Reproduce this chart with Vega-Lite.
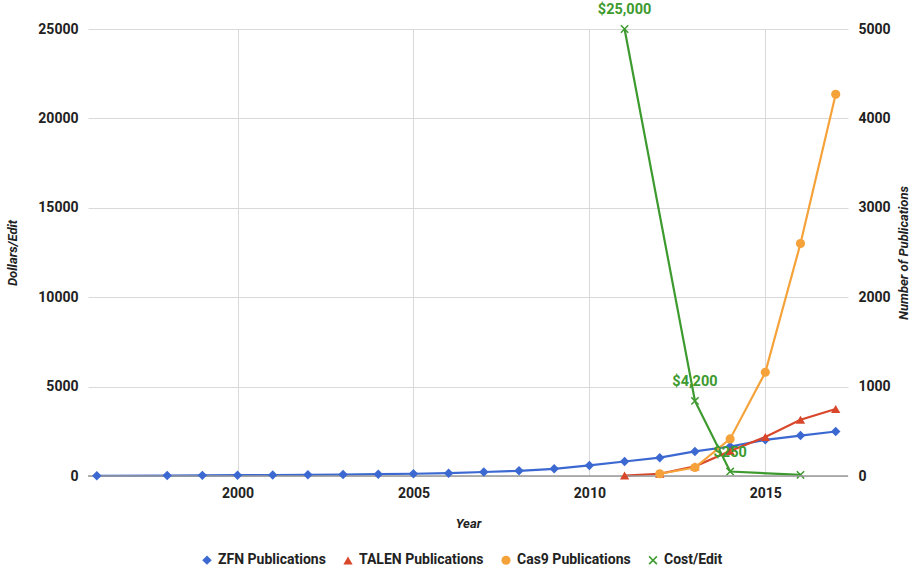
{
  "$schema": "https://vega.github.io/schema/vega-lite/v6.json",
  "width": 760,
  "height": 447,
  "autosize": {"type": "none"},
  "padding": {"left": 88, "top": 29, "right": 75, "bottom": 93},
  "background": "white",
  "config": {
    "view": {"stroke": null},
    "font": "Roboto",
    "axis": {"labelFont": "Roboto", "labelFontWeight": "bold", "labelFontSize": 14, "labelColor": "#222222", "titleFont": "Roboto", "titleFontWeight": "bold", "titleFontStyle": "italic", "titleFontSize": 13, "titleColor": "#222222", "ticks": false, "domain": false, "gridColor": "#d9d9d9"}
  },
  "data": {
    "values": [
      {"year": 1996, "series": "ZFN Publications", "value": 3},
      {"year": 1998, "series": "ZFN Publications", "value": 5},
      {"year": 1999, "series": "ZFN Publications", "value": 7},
      {"year": 2000, "series": "ZFN Publications", "value": 9},
      {"year": 2001, "series": "ZFN Publications", "value": 11},
      {"year": 2002, "series": "ZFN Publications", "value": 13},
      {"year": 2003, "series": "ZFN Publications", "value": 16},
      {"year": 2004, "series": "ZFN Publications", "value": 20},
      {"year": 2005, "series": "ZFN Publications", "value": 25},
      {"year": 2006, "series": "ZFN Publications", "value": 32},
      {"year": 2007, "series": "ZFN Publications", "value": 45},
      {"year": 2008, "series": "ZFN Publications", "value": 58},
      {"year": 2009, "series": "ZFN Publications", "value": 80},
      {"year": 2010, "series": "ZFN Publications", "value": 118},
      {"year": 2011, "series": "ZFN Publications", "value": 162},
      {"year": 2012, "series": "ZFN Publications", "value": 205},
      {"year": 2013, "series": "ZFN Publications", "value": 275},
      {"year": 2014, "series": "ZFN Publications", "value": 330},
      {"year": 2015, "series": "ZFN Publications", "value": 405},
      {"year": 2016, "series": "ZFN Publications", "value": 452},
      {"year": 2017, "series": "ZFN Publications", "value": 498},
      {"year": 2011, "series": "TALEN Publications", "value": 5},
      {"year": 2012, "series": "TALEN Publications", "value": 25},
      {"year": 2013, "series": "TALEN Publications", "value": 108},
      {"year": 2014, "series": "TALEN Publications", "value": 280},
      {"year": 2015, "series": "TALEN Publications", "value": 437},
      {"year": 2016, "series": "TALEN Publications", "value": 630},
      {"year": 2017, "series": "TALEN Publications", "value": 750},
      {"year": 2012, "series": "Cas9 Publications", "value": 25},
      {"year": 2013, "series": "Cas9 Publications", "value": 95},
      {"year": 2014, "series": "Cas9 Publications", "value": 415},
      {"year": 2015, "series": "Cas9 Publications", "value": 1160},
      {"year": 2016, "series": "Cas9 Publications", "value": 2600},
      {"year": 2017, "series": "Cas9 Publications", "value": 4270},
      {"year": 2011, "series": "Cost/Edit", "value": 25000, "label": "$25,000"},
      {"year": 2013, "series": "Cost/Edit", "value": 4200, "label": "$4,200"},
      {"year": 2014, "series": "Cost/Edit", "value": 250, "label": "$250"},
      {"year": 2016, "series": "Cost/Edit", "value": 65}
    ]
  },
  "encoding": {
    "x": {
      "field": "year", "type": "quantitative",
      "scale": {"domain": [1995.75, 2017.35], "nice": false, "zero": false},
      "axis": {"values": [2000, 2005, 2010, 2015], "format": "d", "title": "Year", "labelPadding": 10, "titlePadding": 17, "grid": true}
    }
  },
  "layer": [
    {
      "transform": [{"filter": "datum.series === 'Cost/Edit'"}],
      "layer": [
        {
          "mark": {"type": "line", "strokeWidth": 2.2, "color": "#3d9a2e"},
          "encoding": {
            "y": {"field": "value", "type": "quantitative", "scale": {"domain": [0, 25000], "nice": false},
              "axis": {"orient": "left", "title": "Dollars/Edit", "values": [0, 5000, 10000, 15000, 20000, 25000], "format": "d", "grid": true, "labelPadding": 10, "titlePadding": 18}}
          }
        },
        {
          "mark": {"type": "point", "filled": true, "opacity": 1, "size": 70, "color": "#3d9a2e", "shape": "M-0.75,-1L0,-0.25L0.75,-1L1,-0.75L0.25,0L1,0.75L0.75,1L0,0.25L-0.75,1L-1,0.75L-0.25,0L-1,-0.75Z"},
          "encoding": {
            "y": {"field": "value", "type": "quantitative"}
          }
        }
      ]
    },
    {
      "layer": [
        {
          "transform": [{"filter": "datum.series !== 'Cost/Edit'"}],
          "mark": {"type": "line", "strokeWidth": 2.2},
          "encoding": {
            "y": {"field": "value", "type": "quantitative", "scale": {"domain": [0, 5000], "nice": false},
              "axis": {"orient": "right", "title": "Number of Publications", "titleAngle": 270, "values": [0, 1000, 2000, 3000, 4000, 5000], "format": "d", "grid": false, "labelPadding": 10, "titlePadding": 20}},
            "stroke": {"field": "series", "type": "nominal", "legend": null,
              "scale": {"domain": ["ZFN Publications", "TALEN Publications", "Cas9 Publications"], "range": ["#3c68d1", "#d9472b", "#f5a23a"]}}
          }
        },
        {
          "data": {"values": [{"zero": 0}]},
          "mark": {"type": "rule", "color": "#999999", "strokeWidth": 1.5},
          "encoding": {"y": {"field": "zero", "type": "quantitative"}, "x": {"value": 0}, "x2": {"value": 760}}
        },
        {
          "mark": {"type": "point", "filled": true, "opacity": 1},
          "encoding": {
            "y": {"field": "value", "type": "quantitative", "scale": {"domain": [0, 5000], "nice": false}},
            "opacity": {"condition": {"test": "datum.series === 'Cost/Edit'", "value": 0}, "value": 1},
            "color": {"field": "series", "type": "nominal",
              "scale": {"domain": ["ZFN Publications", "TALEN Publications", "Cas9 Publications", "Cost/Edit"], "range": ["#3c68d1", "#d9472b", "#f5a23a", "#3d9a2e"]},
              "legend": {"title": null, "orient": "none", "direction": "horizontal", "legendX": 112, "legendY": 524, "labelFont": "Roboto", "labelFontWeight": "bold", "labelFontSize": 14, "labelColor": "#222222", "columnPadding": 14, "symbolSize": 80, "symbolOpacity": 1}},
            "shape": {"field": "series", "type": "nominal",
              "scale": {"domain": ["ZFN Publications", "TALEN Publications", "Cas9 Publications", "Cost/Edit"], "range": ["diamond", "triangle-up", "circle", "M-0.75,-1L0,-0.25L0.75,-1L1,-0.75L0.25,0L1,0.75L0.75,1L0,0.25L-0.75,1L-1,0.75L-0.25,0L-1,-0.75Z"]}},
            "size": {"field": "series", "type": "nominal", "legend": null,
              "scale": {"domain": ["ZFN Publications", "TALEN Publications", "Cas9 Publications", "Cost/Edit"], "range": [90, 80, 130, 70]}}
          }
        }
      ]
    },
    {
      "transform": [{"filter": "isValid(datum.label)"}],
      "mark": {"type": "text", "dy": -19, "font": "Roboto", "fontWeight": "bold", "fontSize": 14.5, "color": "#3d9a2e", "baseline": "middle"},
      "encoding": {
        "y": {"field": "value", "type": "quantitative", "scale": {"domain": [0, 25000], "nice": false}, "axis": null},
        "text": {"field": "label"}
      }
    }
  ],
  "resolve": {"scale": {"y": "independent"}}
}
